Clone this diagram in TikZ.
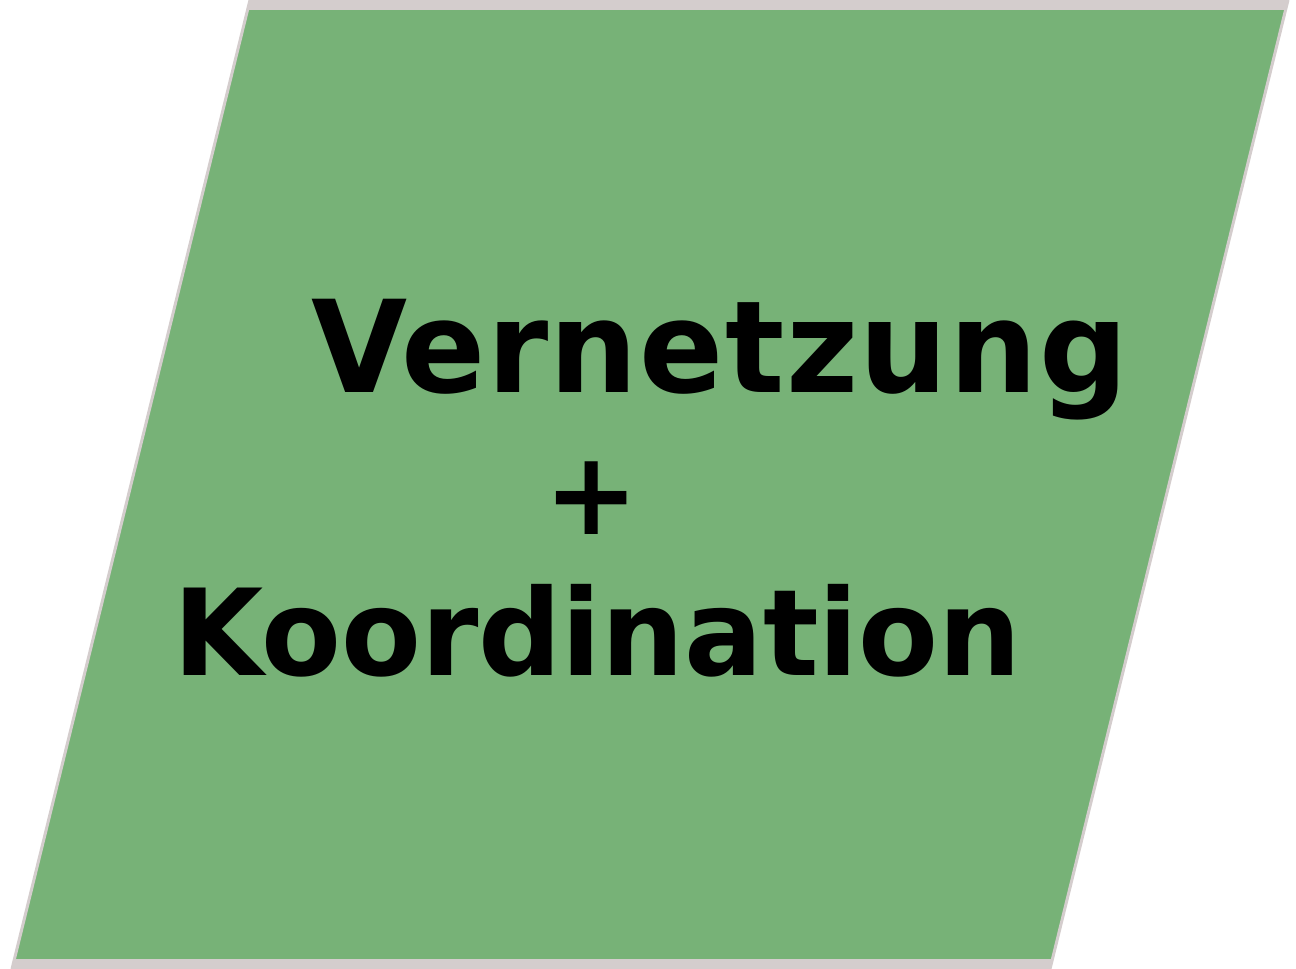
\documentclass[tikz,border=0pt]{standalone}
\usepackage{fontspec}
\newfontfamily\labfont[FakeStretch=0.97]{DejaVu Sans Bold}
\definecolor{boxgreen}{RGB}{119,178,119}
\definecolor{boxedge}{RGB}{212,205,205}
\tikzset{
  lab/.style={font=\labfont, text=black, inner sep=0pt, outer sep=0pt}
}
\begin{document}
\begin{tikzpicture}[x=0.5pt,y=-0.5pt]
\useasboundingbox (0,0) rectangle (1296,969);
\coordinate (tl) at (250,0);
\coordinate (tr) at (1288,0);
\coordinate (br) at (1050,969);
\coordinate (bl) at (12,969);
\begin{scope}
  \clip (tl) -- (tr) -- (br) -- (bl) -- cycle;
  \fill[boxgreen] (0,0) rectangle (1296,969);
  \fill[boxedge] (0,0) rectangle (1296,10);
  \fill[boxedge] (0,959) rectangle (1296,969);
\end{scope}
\draw[boxedge, line width=1.5pt] (tl) -- (bl) (tr) -- (br);
\node[lab, anchor=base west] (v) at (311,392) {\fontsize{64}{68}\selectfont\addfontfeature{LetterSpace=1.1}Vernetzung};
\node[lab] (p) at (592,498) {\fontsize{58}{62}\selectfont +};
\node[lab, anchor=base west] (k) at (173,675) {\fontsize{60}{64}\selectfont Koordination};
\end{tikzpicture}
\end{document}
